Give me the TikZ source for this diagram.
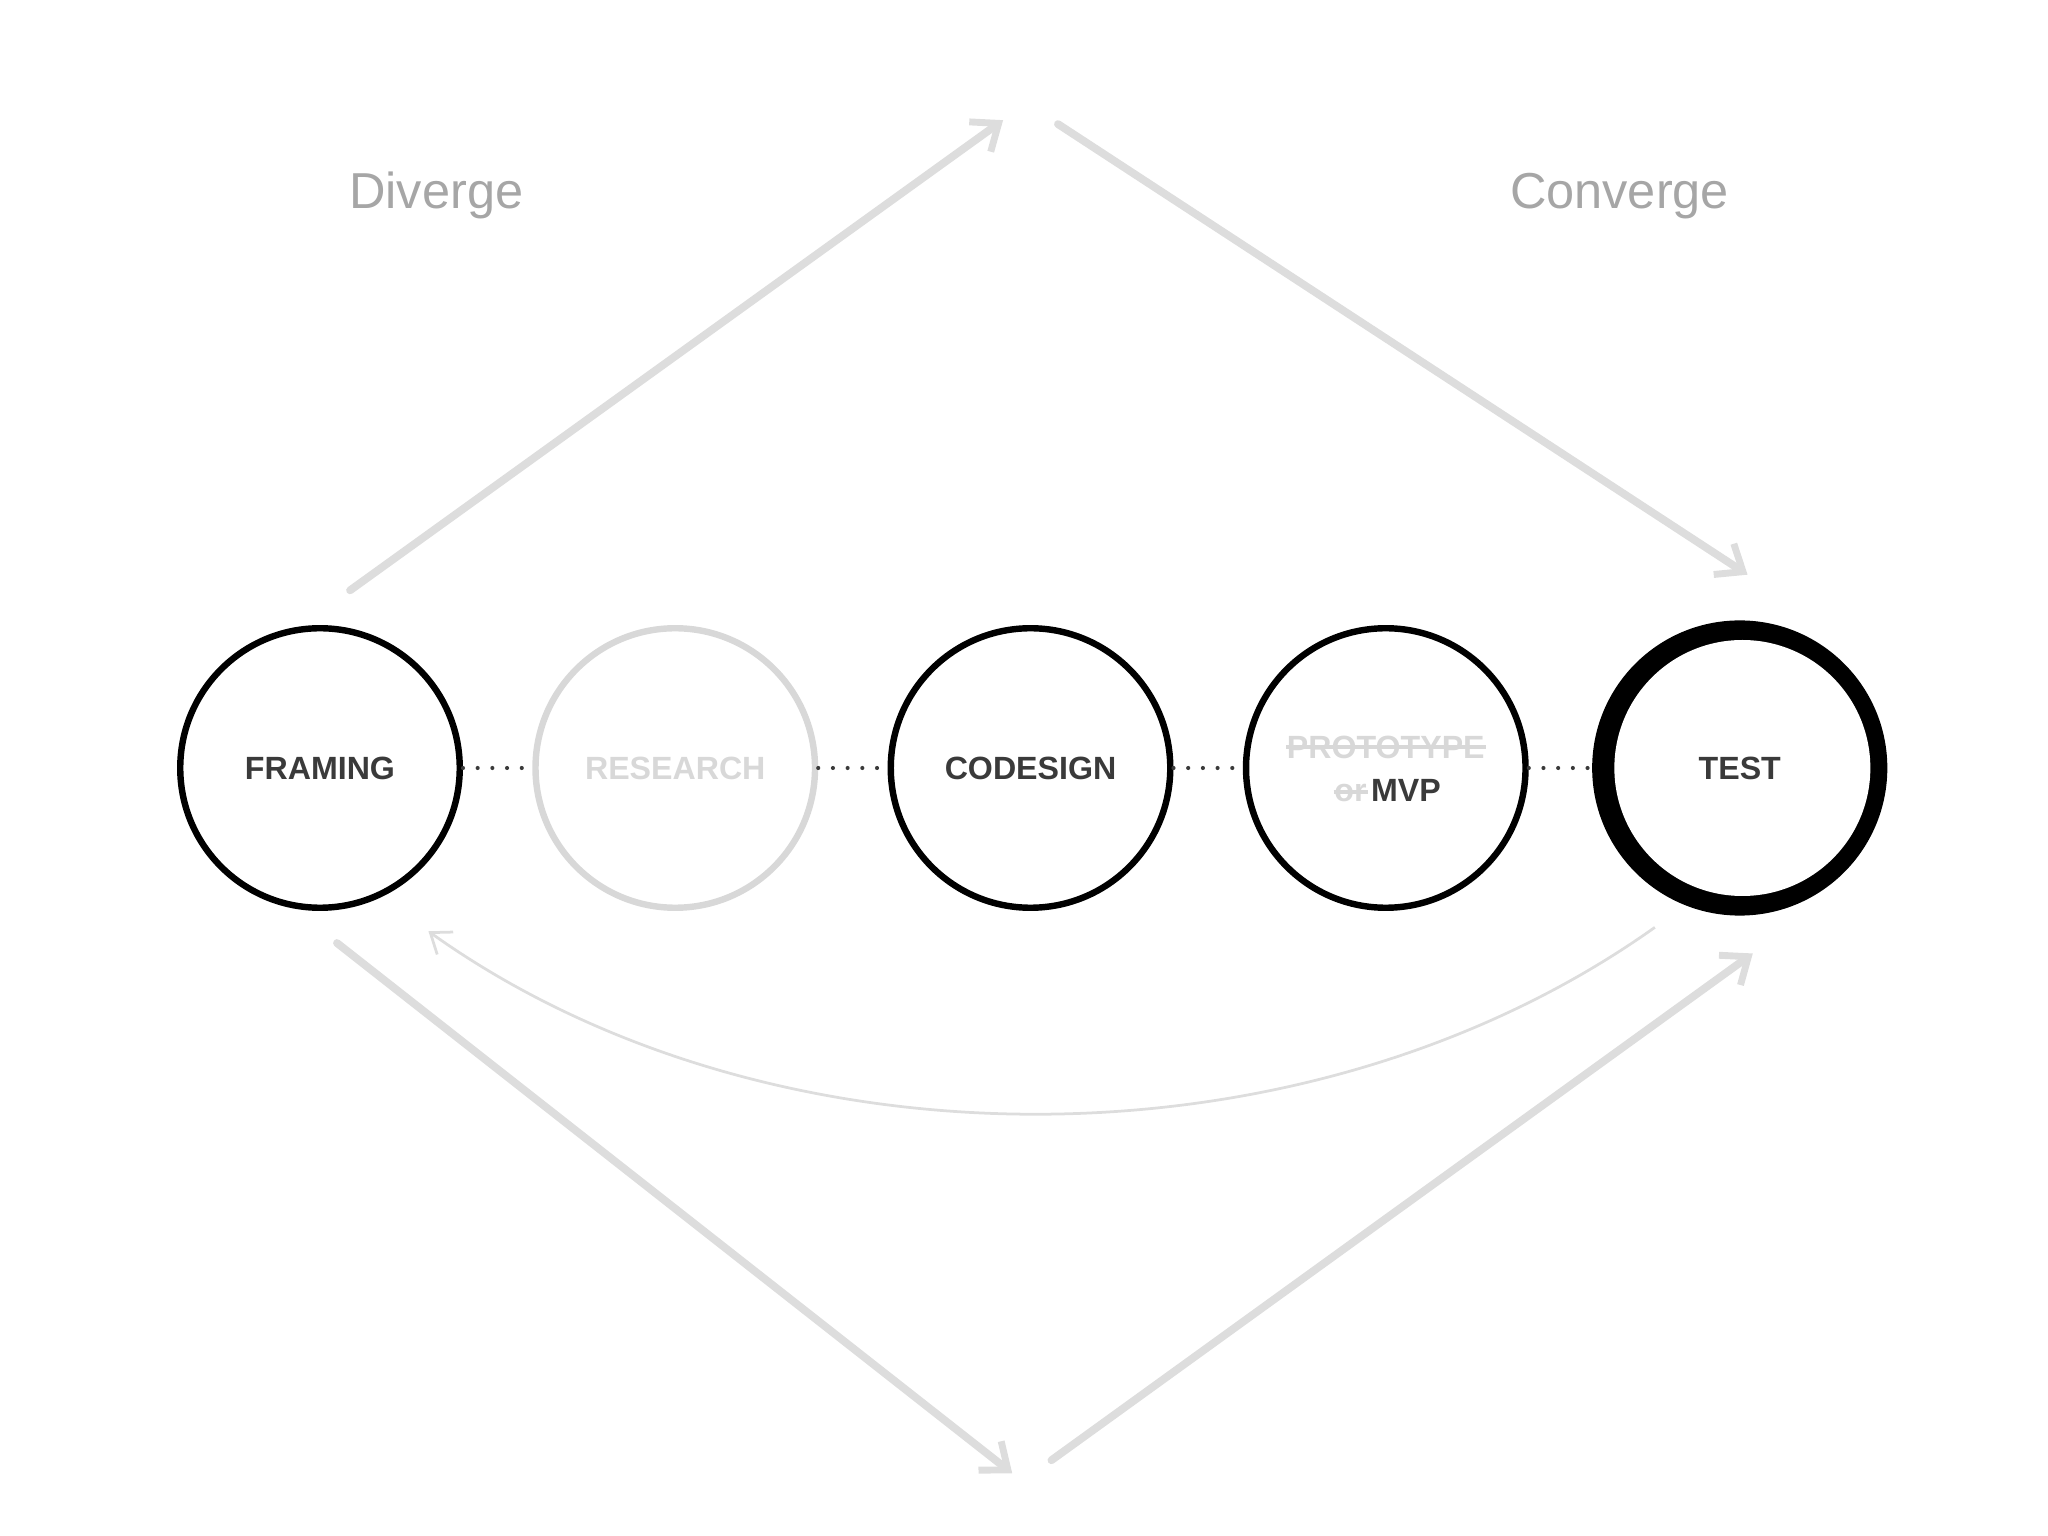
\documentclass[tikz,border=0pt]{standalone}
\usepackage{fontspec}
\setmainfont{Liberation Sans}
\usetikzlibrary{arrows.meta}
\definecolor{sk}{HTML}{DDDDDD}
\definecolor{lbl}{HTML}{3A3A3A}
\definecolor{faint}{HTML}{D8D8D8}
\begin{document}
\begin{tikzpicture}[x=0.01cm,y=-0.01cm,
  stage/.style={circle,draw=black,line width=1.4pt,minimum size=214*0.01cm,inner sep=0pt,font=\bfseries\fontsize{7}{8.5}\selectfont,text=lbl,align=center},
  lab/.style={inner sep=0pt,font=\bfseries\fontsize{7}{8.5}\selectfont,text=lbl},
  sketch/.style={draw=sk,line width=1.7pt,line cap=round,-{Straight Barb[length=5pt,width=8pt,line width=1.5pt]}},
  dots/.style={draw=lbl,line width=0.9pt,dash pattern=on 0pt off 3.2pt,line cap=round},
  phase/.style={font=\fontsize{11}{13}\selectfont,text=black!35}]
\useasboundingbox (0,0) rectangle (1568,1176);
\node[stage] (f) at (245,588) {FRAMING};
\node[stage,draw=faint,text=faint] (r) at (517,588) {RESEARCH};
\node[stage] (c) at (789,588) {CODESIGN};
\node[stage] (p) at (1061,588) {};
\node[lab,text=faint] (pt) at (1061,572) {PROTOTYPE};
\node[lab,text=faint,anchor=base east] (po) at (1047,614) {or};
\node[lab,anchor=base west] (pm) at (1049,614) {MVP};
\draw[faint,line width=0.8pt] (pt.west) -- (pt.east);
\draw[faint,line width=0.8pt] ([yshift=2.2pt]po.base west) -- ([yshift=2.2pt]po.base east);
\fill[black] (1332,588) circle (113);
\fill[white] (1334,588) circle (98);
\node[circle,minimum size=226*0.01cm,inner sep=0pt,font=\bfseries\fontsize{7}{8.5}\selectfont,text=lbl] (t) at (1332,588) {TEST};
\draw[dots] (f.east) -- (r.west);
\draw[dots] (r.east) -- (c.west);
\draw[dots] (c.east) -- (p.west);
\draw[dots] (p.east) -- (t.west);
\node[phase] (dv) at (334,150) {Diverge};
\node[phase] (cv) at (1240,150) {Converge};
\coordinate (a1) at (268,452); \coordinate (a2) at (768,92);
\coordinate (b1) at (810,95); \coordinate (b2) at (1338,440);
\coordinate (c1) at (258,722); \coordinate (c2) at (775,1128);
\coordinate (d1) at (805,1118); \coordinate (d2) at (1342,730);
\draw[sketch] (a1) -- (a2);
\draw[sketch] (b1) -- (b2);
\draw[sketch] (c1) -- (c2);
\draw[sketch] (d1) -- (d2);
\coordinate (e1) at (1267,710); \coordinate (e2) at (328,713);
\draw[draw=sk,line width=0.6pt,-{Straight Barb[length=4pt,width=6pt]}] (e1) .. controls (1000,900) and (590,900) .. (e2);
\end{tikzpicture}
\end{document}
